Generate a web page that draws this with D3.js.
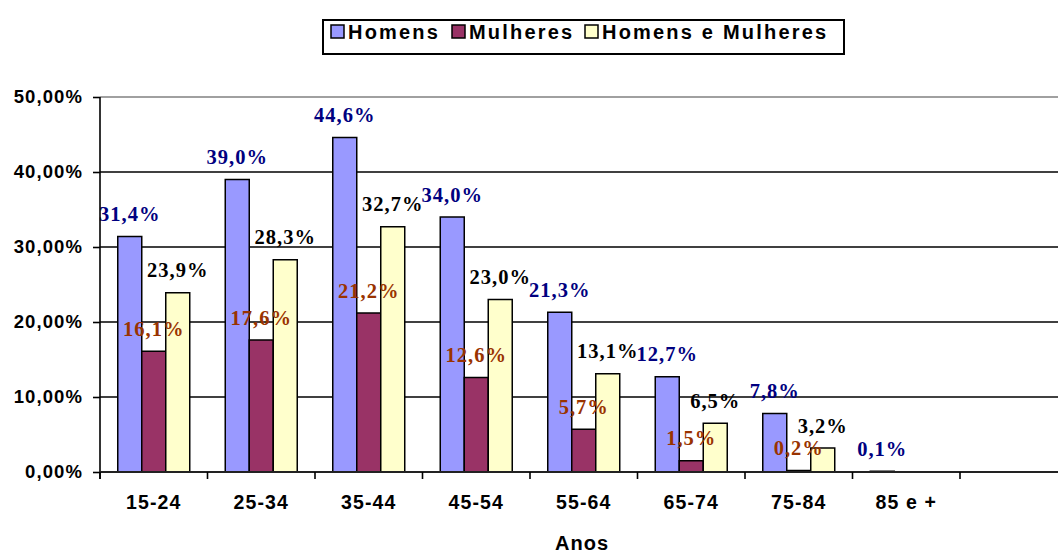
<!DOCTYPE html>
<html>
<head>
<meta charset="utf-8">
<script src="https://cdn.jsdelivr.net/npm/d3@7"></script>
<style>
  body { margin: 0; background: #fff; }
  svg { display: block; }
</style>
</head>
<body>
<div id="chart"></div>
<script>
// data
var categories = ["15-24", "25-34", "35-44", "45-54", "55-64", "65-74", "75-84", "85 e +", ""];
var homens    = [31.4, 39.0, 44.6, 34.0, 21.3, 12.7, 7.8, 0.1];
var mulheres  = [16.1, 17.6, 21.2, 12.6, 5.7, 1.5, 0.2, null];
var ambos     = [23.9, 28.3, 32.7, 23.0, 13.1, 6.5, 3.2, null];
var yTicks    = [0, 10, 20, 30, 40, 50];

var seriesNames = ["Homens", "Mulheres", "Homens e Mulheres"];
var seriesVals  = [homens, mulheres, ambos];
var fills  = ["#9999ff", "#993366", "#ffffcc"];
var labelColors = ["#000080", "#993300", "#000000"];

var W = 1058, H = 554;
var plotLeft = 100, plotTop = 97, plotBottom = 472;

var svg = d3.select("#chart").append("svg")
    .attr("width", W)
    .attr("height", H);

var x = d3.scaleBand()
    .domain(categories)
    .range([plotLeft, plotLeft + 107.5 * categories.length])
    .padding(0);

var xs = d3.scaleBand()
    .domain(d3.range(3))
    .range([0, x.bandwidth()])
    .paddingInner(0)
    .paddingOuter(0.74);

var y = d3.scaleLinear()
    .domain([0, 50])
    .range([plotBottom, plotTop]);

// gridlines
svg.append("g").selectAll("line")
    .data(yTicks.filter(function (d) { return d > 0; }))
    .enter().append("line")
    .attr("x1", plotLeft).attr("x2", W)
    .attr("y1", function (d) { return y(d); })
    .attr("y2", function (d) { return y(d); })
    .attr("stroke", function (d) { return d == 50 ? "#808080" : "#000"; })
    .attr("stroke-width", 1.6);

// bars
var rows = [];
categories.forEach(function (c, i) {
    seriesVals.forEach(function (vals, s) {
        if (vals[i] != null) rows.push({ cat: c, s: s, v: vals[i] });
    });
});

svg.append("g").selectAll("rect")
    .data(rows)
    .enter().append("rect")
    .attr("x", function (d) { return x(d.cat) + xs(d.s); })
    .attr("width", xs.bandwidth())
    .attr("y", function (d) { return y(d.v); })
    .attr("height", function (d) { return plotBottom - y(d.v); })
    .attr("fill", function (d) { return fills[d.s]; })
    .attr("stroke", "#000")
    .attr("stroke-width", 1.5);

// value labels
svg.append("g").selectAll("text")
    .data(rows)
    .enter().append("text")
    .attr("x", function (d) { return x(d.cat) + xs(d.s) + xs.bandwidth() / 2; })
    .attr("y", function (d) { return y(d.v) - 15.5; })
    .attr("text-anchor", "middle")
    .style("font-family", "'Liberation Serif', 'Times New Roman', serif")
    .style("font-weight", "bold")
    .style("font-size", "20.5px")
    .style("letter-spacing", "1px")
    .attr("fill", function (d) { return labelColors[d.s]; })
    .text(function (d) { return d3.format(".1f")(d.v).replace(".", ",") + "%"; });

// y axis
var yAxis = svg.append("g")
    .attr("transform", "translate(" + plotLeft + ",0)")
    .call(d3.axisLeft(y).tickValues(yTicks).tickSize(7).tickPadding(10)
        .tickFormat(function (d) { return d3.format(".2f")(d).replace(".", ",") + "%"; }));
yAxis.select(".domain").attr("stroke", "#000").attr("stroke-width", 1.6)
    .attr("d", "M0," + plotTop + "V" + (plotBottom + 7));
yAxis.selectAll(".tick line").attr("stroke", "#000").attr("stroke-width", 1.6);
yAxis.selectAll("text")
    .style("font-family", "Arial, 'Liberation Sans', sans-serif")
    .style("font-weight", "bold")
    .style("font-size", "18.5px")
    .style("letter-spacing", "1.1px")
    .attr("fill", "#000");

// x axis
var xAxis = svg.append("g")
    .attr("transform", "translate(0," + plotBottom + ")")
    .call(d3.axisBottom(x).tickSize(0).tickPadding(23));
xAxis.select(".domain").remove();
xAxis.append("line")
    .attr("x1", plotLeft).attr("x2", W)
    .attr("stroke", "#222").attr("stroke-width", 2);
xAxis.selectAll(".sep")
    .data(categories)
    .enter().append("line")
    .attr("class", "sep")
    .attr("x1", function (d) { return x(d); })
    .attr("x2", function (d) { return x(d); })
    .attr("y1", 0).attr("y2", 7)
    .attr("stroke", "#000").attr("stroke-width", 1.6);
xAxis.selectAll(".tick text")
    .style("font-family", "Arial, 'Liberation Sans', sans-serif")
    .style("font-weight", "bold")
    .style("font-size", "19.5px")
    .style("letter-spacing", "1.1px")
    .attr("fill", "#000");

// axis title
svg.append("text")
    .attr("x", 582)
    .attr("y", 550)
    .attr("text-anchor", "middle")
    .style("font-family", "Arial, 'Liberation Sans', sans-serif")
    .style("font-weight", "bold")
    .style("font-size", "20px")
    .style("letter-spacing", "1px")
    .text("Anos");

// legend
var legend = svg.append("g");
legend.append("rect")
    .attr("x", 323).attr("y", 20)
    .attr("width", 521).attr("height", 34)
    .attr("fill", "#fff")
    .attr("stroke", "#000")
    .attr("stroke-width", 2);

var legendX = [331, 452, 585];
seriesNames.forEach(function (name, i) {
    legend.append("rect")
        .attr("x", legendX[i]).attr("y", 25)
        .attr("width", 13).attr("height", 13)
        .attr("fill", fills[i])
        .attr("stroke", "#000")
        .attr("stroke-width", 1.5);
    legend.append("text")
        .attr("x", legendX[i] + 17)
        .attr("y", 38.5)
        .style("font-family", "Arial, 'Liberation Sans', sans-serif")
        .style("font-weight", "bold")
        .style("font-size", "20px")
        .style("letter-spacing", "2.2px")
        .text(name);
});
</script>
</body>
</html>
